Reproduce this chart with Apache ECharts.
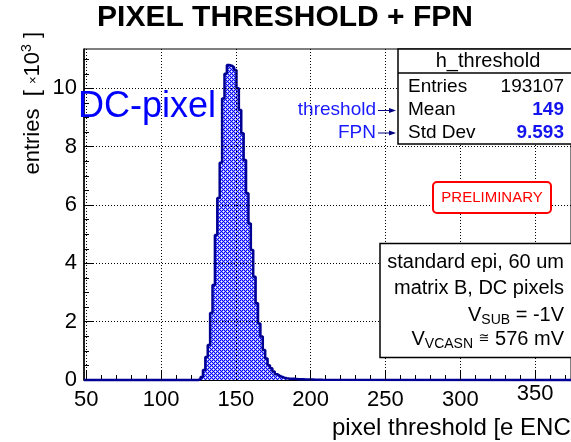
<!DOCTYPE html>
<html><head><meta charset="utf-8">
<script src="https://cdn.jsdelivr.net/npm/echarts@6/dist/echarts.min.js"></script>
<style>html,body{margin:0;padding:0;background:#fff}#c{width:571px;height:442px}</style>
</head><body><div id="c"></div>
<script>
// ---- data ----
const binLowEdge0 = 124.8;      // low edge of first listed bin (pixel threshold, e ENC)
const binWidth = 1.6;
const counts = [ // entries per bin, x10^3
  0.03, 0.10, 0.34, 0.79, 1.20, 2.30, 3.26, 4.97, 6.24, 7.45,
  9.65, 10.50, 10.80, 10.78, 10.72, 10.63, 10.00, 9.26, 8.46, 7.54,
  6.40, 5.37, 4.46, 3.54, 2.63, 1.94, 1.49, 1.03, 0.74, 0.51,
  0.40, 0.29, 0.20, 0.15, 0.11, 0.08, 0.06, 0.05, 0.045, 0.04,
  0.035, 0.03, 0.03, 0.025, 0.02, 0.02, 0.018, 0.015, 0.012, 0.01,
  0.01, 0.008
];
const xRange = [48.5, 374];
const yRange = [0, 11.35];
const xMajorTicks = [50, 100, 150, 200, 250, 300, 350];
const xMinorTicks = [60,70,80,90,110,120,130,140,160,170,180,190,210,220,230,240,260,270,280,290,310,320,330,340,360,370];
const yMajorTicks = [0, 2, 4, 6, 8, 10];
const yMinorTicks = [0.5,1,1.5,2.5,3,3.5,4.5,5,5.5,6.5,7,7.5,8.5,9,9.5,10.5,11];
const statsTitle = 'h_threshold';
const statsLabels = ['Entries', 'Mean', 'Std Dev'];
const statsValues = ['193107', '149', '9.593'];
const infoLines = ['standard epi, 60 um', 'matrix B, DC pixels'];

// ---- build histogram polyline (step) ----
const pts = [[xRange[0], 0]];
counts.forEach((c, i) => pts.push([binLowEdge0 + i * binWidth, c]));
pts.push([binLowEdge0 + counts.length * binWidth, 0]);
pts.push([xRange[1], 0]);

// hatch pattern (diagonal lattice of white dots on blue)
const pat = document.createElement('canvas');
pat.width = 4; pat.height = 4;
const pc = pat.getContext('2d');
pc.fillStyle = '#0000ff'; pc.fillRect(0, 0, 4, 4);
pc.fillStyle = '#a0a0ff';
[[0,1],[2,1],[1,0],[1,2],[2,3],[0,3],[3,2],[3,0]].forEach(p => pc.fillRect(p[0], p[1], 1, 1));
pc.fillStyle = '#ffffff';
[[1,1],[3,3]].forEach(p => pc.fillRect(p[0], p[1], 1, 1));

const F = 'Liberation Sans';
const chart = echarts.init(document.getElementById('c'), null, {renderer: 'canvas'});

const gridLines = xMajorTicks.filter(v => v > xRange[0]).map(v => ({xAxis: v}))
  .concat(yMajorTicks.filter(v => v > 0).map(v => ({yAxis: v})));

chart.setOption({
  animation: false,
  backgroundColor: '#fff',
  grid: {left: 84, top: 49, width: 501, height: 331, show: true, borderColor: '#000', borderWidth: 1, backgroundColor: 'transparent'},
  xAxis: [{
    type: 'value', min: xRange[0], max: xRange[1],
    axisLine: {show: true, lineStyle: {color: '#000', width: 1}},
    axisTick: {show: true, inside: true, length: 9, customValues: xMajorTicks, lineStyle: {color: '#000', width: 1}},
    axisLabel: {show: true, customValues: xMajorTicks, margin: 9, color: '#000', fontFamily: F, fontSize: 22,
      formatter: v => v === 350 ? '{r|350}' : String(v),
      rich: {r: {fontFamily: F, fontSize: 22, color: '#000', lineHeight: 10}}},
    splitLine: {show: false}
  }, {
    type: 'value', min: xRange[0], max: xRange[1], position: 'bottom',
    axisLine: {show: false},
    axisTick: {show: true, inside: true, length: 5, customValues: xMinorTicks, lineStyle: {color: '#000', width: 1}},
    axisLabel: {show: false},
    splitLine: {show: false}
  }],
  yAxis: [{
    type: 'value', min: yRange[0], max: yRange[1],
    axisLine: {show: true, lineStyle: {color: '#000', width: 1.5}},
    axisTick: {show: true, inside: true, length: 10, customValues: yMajorTicks, lineStyle: {color: '#000', width: 1}},
    axisLabel: {show: true, customValues: yMajorTicks, margin: 7, color: '#000', fontFamily: F, fontSize: 22},
    splitLine: {show: false}
  }, {
    type: 'value', min: yRange[0], max: yRange[1], position: 'left',
    axisLine: {show: false},
    axisTick: {show: true, inside: true, length: 5, customValues: yMinorTicks, lineStyle: {color: '#000', width: 1}},
    axisLabel: {show: false},
    splitLine: {show: false}
  }],
  series: [{
    type: 'line', xAxisIndex: 0, yAxisIndex: 0,
    data: pts, step: 'end', showSymbol: false, symbol: 'none', clip: false,
    lineStyle: {color: '#000095', width: 2.5},
    areaStyle: {color: {image: pat, repeat: 'repeat'}, opacity: 1},
    z: 2,
    markLine: {
      silent: true, symbol: ['none', 'none'], label: {show: false}, z: 5,
      lineStyle: {color: '#000', type: [1, 2], width: 1},
      data: gridLines
    }
  }],
  graphic: [
    {type: 'text', z: 100, x: 285, y: 18, style: {text: 'PIXEL THRESHOLD + FPN', font: 'bold 30px ' + F, fill: '#000', align: 'center', verticalAlign: 'middle'}},
    {type: 'text', z: 100, x: 78, y: 107.5, style: {text: 'DC-pixel', font: '36px ' + F, fill: '#0000ff', align: 'left', verticalAlign: 'middle'}},
    {type: 'text', z: 100, x: 33, y: 32, rotation: Math.PI / 2,
      style: {text: 'entries  [ {x|×}10{s|3} ]', font: '22px ' + F, fill: '#000', align: 'right', verticalAlign: 'middle', lineHeight: 26,
        rich: {x: {fontFamily: F, fontSize: 13, fill: '#000', lineHeight: 26}, s: {fontFamily: F, fontSize: 14, fill: '#000', lineHeight: 18, verticalAlign: 'top'}}}},
    {type: 'text', z: 100, x: 332, y: 428, style: {text: 'pixel threshold [e ENC]', font: '24px ' + F, fill: '#000', align: 'left', verticalAlign: 'middle'}},
    // stats box
    {type: 'rect', z: 100, shape: {x: 398, y: 49, width: 200, height: 95}, style: {fill: '#fff', stroke: '#000', lineWidth: 1.5}},
    {type: 'line', z: 101, shape: {x1: 398, y1: 73, x2: 600, y2: 73}, style: {stroke: '#000', lineWidth: 1.5}},
    {type: 'text', z: 102, x: 488, y: 61, style: {text: statsTitle, font: '20px ' + F, fill: '#000', align: 'center', verticalAlign: 'middle'}},
    {type: 'text', z: 102, x: 408, y: 87, style: {text: statsLabels[0], font: '19px ' + F, fill: '#000', align: 'left', verticalAlign: 'middle'}},
    {type: 'text', z: 102, x: 408, y: 110, style: {text: statsLabels[1], font: '19px ' + F, fill: '#000', align: 'left', verticalAlign: 'middle'}},
    {type: 'text', z: 102, x: 408, y: 132.5, style: {text: statsLabels[2], font: '19px ' + F, fill: '#000', align: 'left', verticalAlign: 'middle'}},
    {type: 'text', z: 102, x: 564, y: 87, style: {text: statsValues[0], font: '19px ' + F, fill: '#000', align: 'right', verticalAlign: 'middle'}},
    {type: 'text', z: 102, x: 564, y: 110, style: {text: statsValues[1], font: 'bold 19px ' + F, fill: '#1414ee', align: 'right', verticalAlign: 'middle'}},
    {type: 'text', z: 102, x: 564, y: 132.5, style: {text: statsValues[2], font: 'bold 19px ' + F, fill: '#1414ee', align: 'right', verticalAlign: 'middle'}},
    // arrows
    {type: 'text', z: 100, x: 376, y: 110, style: {text: 'threshold', font: '19px ' + F, fill: '#1a1aff', align: 'right', verticalAlign: 'middle'}},
    {type: 'text', z: 100, x: 376, y: 132.5, style: {text: 'FPN', font: '19px ' + F, fill: '#1a1aff', align: 'right', verticalAlign: 'middle'}},
    {type: 'line', z: 100, shape: {x1: 378, y1: 110.5, x2: 394, y2: 110.5}, style: {stroke: '#000080', lineWidth: 1}},
    {type: 'polygon', z: 100, shape: {points: [[396, 110.5], [389, 108], [389, 113]]}, style: {fill: '#000080'}},
    {type: 'line', z: 100, shape: {x1: 378, y1: 133, x2: 394, y2: 133}, style: {stroke: '#000080', lineWidth: 1}},
    {type: 'polygon', z: 100, shape: {points: [[396, 133], [389, 130.5], [389, 135.5]]}, style: {fill: '#000080'}},
    // preliminary
    {type: 'rect', z: 100, shape: {x: 433, y: 182, width: 118, height: 31, r: 4}, style: {fill: '#fff', stroke: '#ff0000', lineWidth: 2}},
    {type: 'text', z: 101, x: 492, y: 198, style: {text: 'PRELIMINARY', font: '15px ' + F, fill: '#ff0000', align: 'center', verticalAlign: 'middle'}},
    // info box
    {type: 'rect', z: 100, shape: {x: 380, y: 243.5, width: 220, height: 114}, style: {fill: '#fff', stroke: '#000', lineWidth: 1.5}},
    {type: 'text', z: 101, x: 564, y: 262, style: {text: infoLines[0], font: '20px ' + F, fill: '#000', align: 'right', verticalAlign: 'middle'}},
    {type: 'text', z: 101, x: 564, y: 288.5, style: {text: infoLines[1], font: '20px ' + F, fill: '#000', align: 'right', verticalAlign: 'middle'}},
    {type: 'text', z: 101, x: 564, y: 315, style: {text: 'V{b|SUB} = -1V', font: '20px ' + F, fill: '#000', align: 'right', verticalAlign: 'middle', lineHeight: 24,
      rich: {b: {fontFamily: F, fontSize: 14, fill: '#000', lineHeight: 14, verticalAlign: 'bottom'}}}},
    {type: 'text', z: 101, x: 564, y: 339, style: {text: 'V{b|VCASN} {q|≅} 576 mV', font: '20px ' + F, fill: '#000', align: 'right', verticalAlign: 'middle', lineHeight: 24,
      rich: {b: {fontFamily: F, fontSize: 14, fill: '#000', lineHeight: 14, verticalAlign: 'bottom'}, q: {fontFamily: 'DejaVu Sans', fontSize: 13, fill: '#000', lineHeight: 24}}}}
  ]
});
</script></body></html>
